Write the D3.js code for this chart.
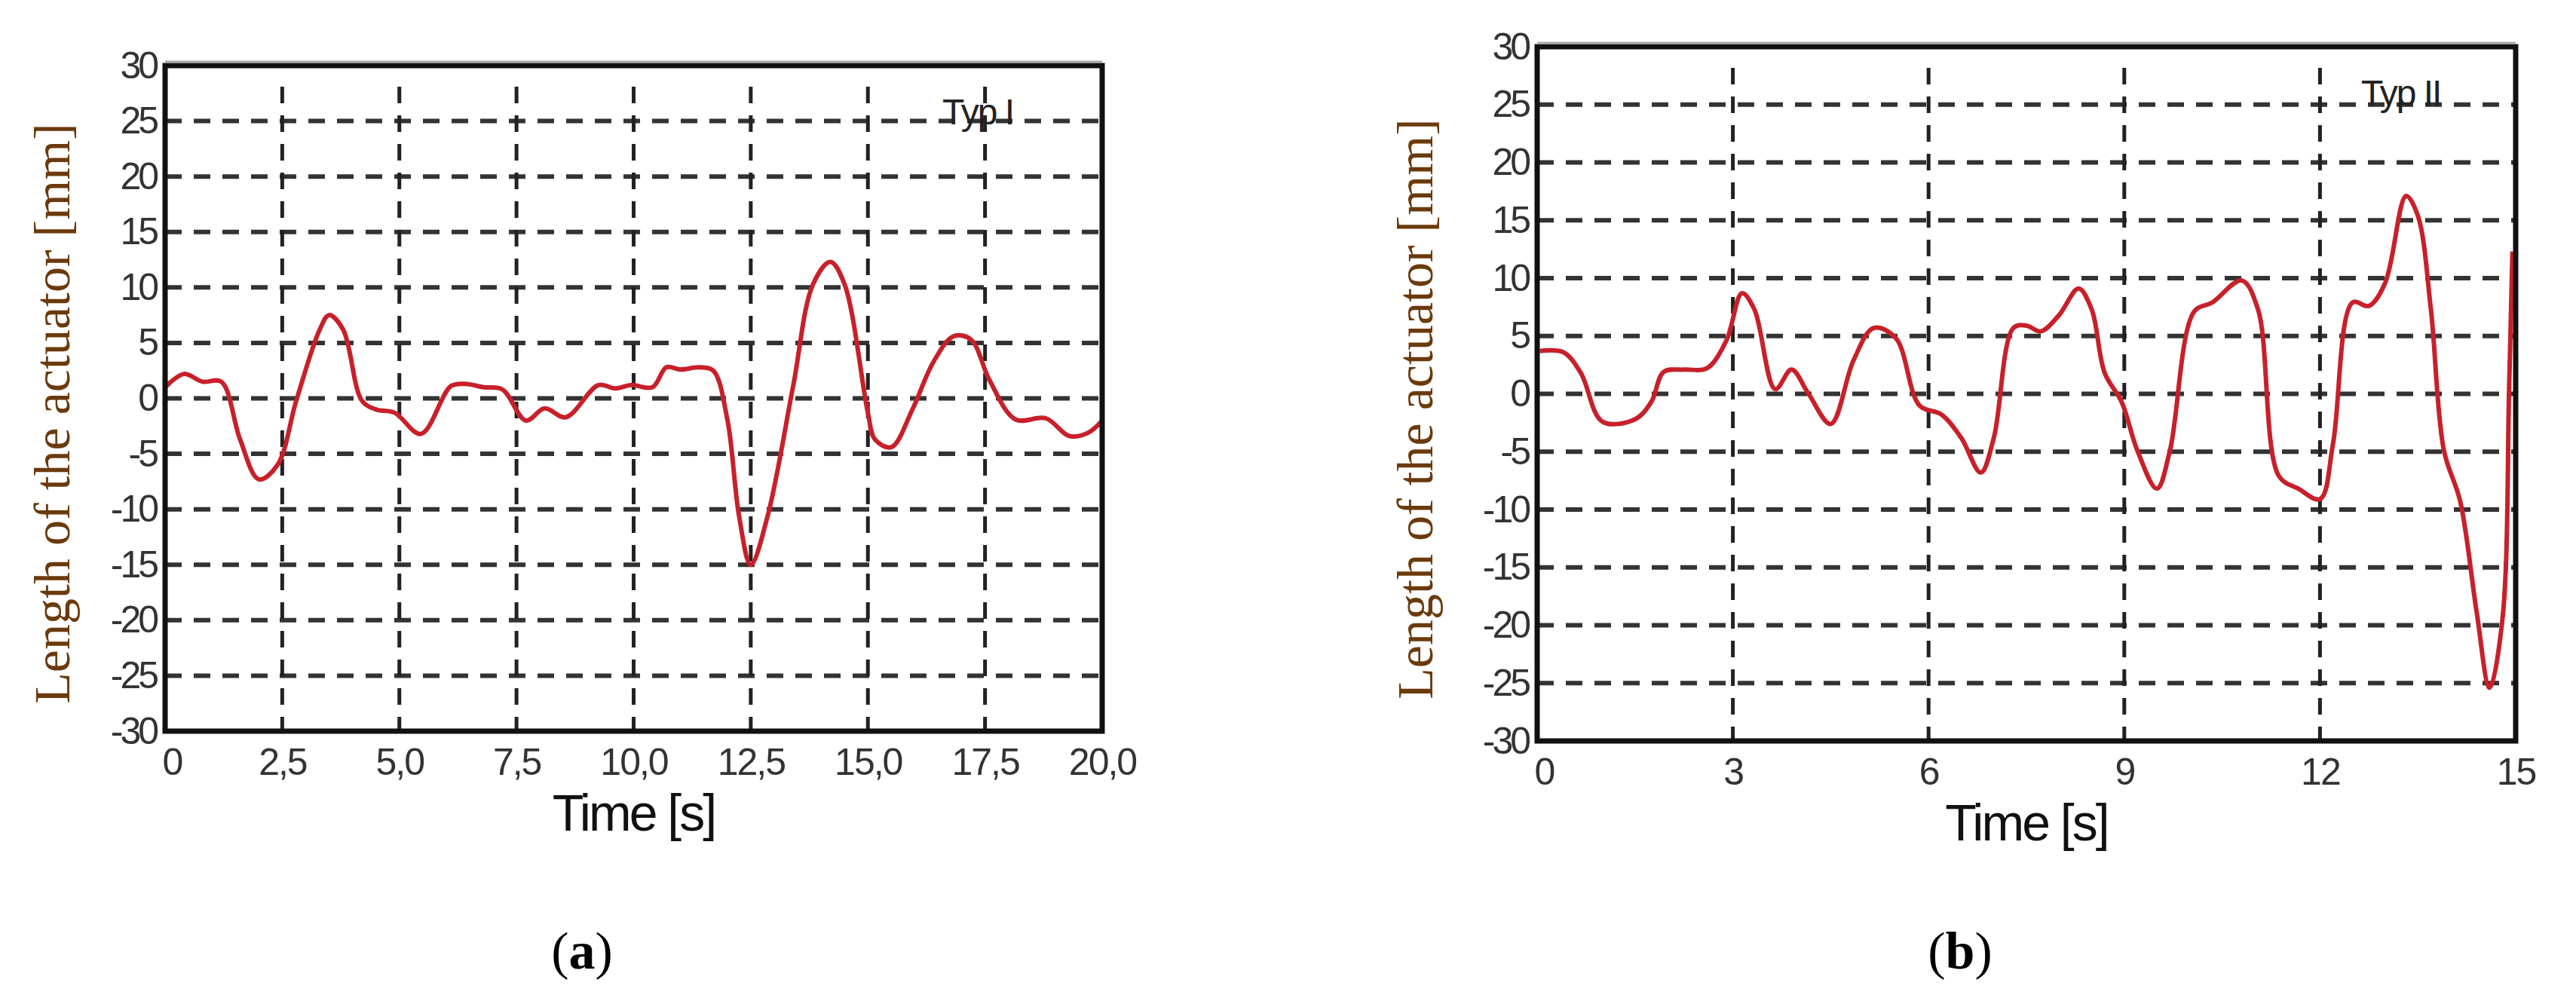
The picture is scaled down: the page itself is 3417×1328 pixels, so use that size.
<!DOCTYPE html>
<html><head><meta charset="utf-8">
<script src="https://cdn.jsdelivr.net/npm/d3@7"></script>
<style>body{margin:0;background:#fff}</style>
</head><body>
<svg id="chart" width="3417" height="1328"></svg>
<script>
// panel (a) - Typ I
var timeA = [0,0.4,0.8,1.2,1.6,2.0,2.4,2.8,3.3,3.5,3.8,4.2,4.5,4.9,5.46,6.1,6.4,6.8,7.2,7.7,8.1,8.55,9.25,9.6,9.96,10.4,10.7,11.0,11.4,11.7,12.0,12.25,12.5,12.86,13.4,13.83,14.2,14.5,15.0,15.15,15.5,15.95,16.4,16.83,17.2,17.6,18.15,18.8,19.3,19.7,20]
var lenA = [1.0,2.2,1.5,1.5,-3.7,-7.3,-6,-0.2,6.2,7.5,6.2,-0.2,-1.0,-1.3,-3.2,1.1,1.3,1.0,0.8,-2.0,-0.9,-1.7,1.2,0.9,1.2,1.0,2.8,2.6,2.8,2.5,-1.9,-10.6,-15,-10.6,1.0,10.3,12.3,10.3,-1.3,-3.7,-4.4,-1.0,3.3,5.6,5.3,1.6,-1.9,-1.8,-3.4,-3.1,-2.0]
var xTicksA = [0,2.5,5,7.5,10,12.5,15,17.5,20]
var xLabelsA = ["0","2,5","5,0","7,5","10,0","12,5","15,0","17,5","20,0"]

// panel (b) - Typ II
var timeB = [0.04,0.4,0.67,1.0,1.5,1.75,1.94,2.25,2.6,2.9,3.14,3.33,3.65,3.9,4.15,4.5,4.85,5.16,5.5,5.86,6.2,6.5,6.8,7.0,7.3,7.5,7.72,8.0,8.3,8.5,8.7,8.96,9.2,9.5,9.7,10.07,10.35,10.8,11.05,11.37,11.67,12.0,12.2,12.5,12.75,13.0,13.32,13.5,13.7,13.9,14.15,14.4,14.6,14.8,14.9,14.95]
var lenB = [3.7,3.6,1.8,-2.4,-2.2,-0.7,1.9,2.1,2.2,4.6,8.7,7.3,0.4,2.1,0.1,-2.6,2.9,5.7,4.8,-1.0,-1.8,-3.8,-6.8,-3.8,5.7,5.9,5.4,6.8,9.1,7.3,1.8,-0.7,-4.9,-8.2,-4.9,7.1,7.9,9.8,7.3,-7.1,-8.2,-9.1,-4.3,7.9,7.6,9.6,17.1,15.4,7.3,-4.9,-9.3,-18.8,-25.4,-19.3,0.7,12.3]
var xTicksB = [0,3,6,9,12,15]
var xLabelsB = ["0","3","6","9","12","15"]

var yTicks = d3.range(-30,31,5)

var svg = d3.select("#chart")

function drawPanel(o){
  var g = svg.append("g")
  var x = d3.scaleLinear().domain(o.xdom).range([o.left,o.right])
  var y = d3.scaleLinear().domain([-30,30]).range([o.bottom,o.top])

  // grid
  g.selectAll(".hg").data(yTicks.filter(function(d){return d>-30&&d<30}))
    .enter().append("line")
    .attr("x1",o.left).attr("x2",o.right)
    .attr("y1",function(d){return y(d)}).attr("y2",function(d){return y(d)})
    .attr("stroke","#333").attr("stroke-width",6).attr("stroke-dasharray","22,16")
  g.selectAll(".vg").data(o.xticks.slice(1,-1))
    .enter().append("line")
    .attr("x1",function(d){return x(d)}).attr("x2",function(d){return x(d)})
    .attr("y1",o.top+28).attr("y2",o.bottom)
    .attr("stroke","#222").attr("stroke-width",5).attr("stroke-dasharray","22,16")

  // curve
  var line = d3.line().x(function(d){return x(d[0])}).y(function(d){return y(d[1])})
    .curve(d3.curveCatmullRom.alpha(0.5))
  g.append("path").datum(o.t.map(function(t,i){return [t,o.v[i]]}))
    .attr("d",line).attr("fill","none").attr("stroke","#c8202a").attr("stroke-width",6)

  // frame
  g.append("rect").attr("x",o.left).attr("y",o.top).attr("width",o.right-o.left).attr("height",o.bottom-o.top)
    .attr("fill","none").attr("stroke","#111").attr("stroke-width",7)
  g.append("line").attr("x1",o.left).attr("x2",o.right).attr("y1",o.top-5).attr("y2",o.top-5)
    .attr("stroke","#aaa").attr("stroke-width",3)

  // tick labels
  var fy = d3.axisLeft(y).tickValues(yTicks).tickSize(0).tickPadding(12)
    .tickFormat(function(d){return String(d)})
  var ay = g.append("g").attr("transform","translate("+o.left+",0)").call(fy)
  ay.select(".domain").remove()
  ay.selectAll("text").attr("font-family","Liberation Sans, Arial").attr("font-size",50).attr("fill","#333")
    .attr("letter-spacing",-4)
  var fx = d3.axisBottom(x).tickValues(o.xticks).tickSize(0).tickPadding(22)
    .tickFormat(function(d,i){return o.xlabels[i]})
  var ax = g.append("g").attr("transform","translate(0,"+o.bottom+")").call(fx)
  ax.select(".domain").remove()
  ax.selectAll("text").attr("font-family","Liberation Sans, Arial").attr("font-size",50).attr("fill","#333")
    .attr("letter-spacing",-2)
    .attr("text-anchor",function(d,i){return i==0?"start":"middle"})
    .attr("dx",function(d,i){return i==0?-4:0})

  g.append("text").attr("x",o.typX).attr("y",o.top+78).text(o.typ)
    .attr("font-family","Liberation Sans, Arial").attr("font-size",48).attr("fill","#222")
    .attr("letter-spacing",-2)

  g.append("text").attr("x",(o.left+o.right)/2).attr("y",o.bottom+132).text("Time [s]")
    .attr("text-anchor","middle").attr("font-family","Liberation Sans, Arial").attr("font-size",68)
    .attr("fill","#111").attr("letter-spacing",-3)
  g.append("text").attr("transform","translate("+o.ylx+","+((o.top+o.bottom)/2+20)+") rotate(-90)")
    .text("Length of the actuator [mm]").attr("text-anchor","middle")
    .attr("font-family","Liberation Serif, Times New Roman").attr("font-size",68).attr("fill","#6b3a0c")
  g.append("text").attr("x",o.capX).attr("y",1285).attr("text-anchor","middle")
    .attr("font-family","Liberation Serif, Times New Roman").attr("font-size",70).attr("fill","#000")
    .html('(<tspan font-weight="bold">'+o.cap+'</tspan>)')
}

drawPanel({left:219,right:1462,top:87,bottom:970,xdom:[0,20],xticks:xTicksA,xlabels:xLabelsA,
  t:timeA,v:lenA,typ:"Typ I",typX:1250,ylx:92,capX:772,cap:"a"})
drawPanel({left:2039,right:3337,top:62,bottom:983,xdom:[0,15],xticks:xTicksB,xlabels:xLabelsB,
  t:timeB,v:lenB,typ:"Typ II",typX:3132,ylx:1900,capX:2600,cap:"b"})
</script>
</body></html>
